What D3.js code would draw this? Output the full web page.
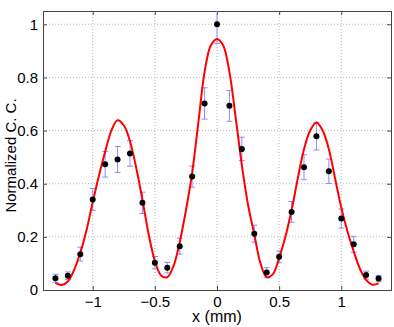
<!DOCTYPE html>
<html><head><meta charset="utf-8">
<script src="https://cdn.jsdelivr.net/npm/d3@7"></script>
<style>body{margin:0;background:#fff}svg{display:block}text{font-family:"Liberation Sans",Arial,sans-serif}</style>
</head><body><svg id="c" width="394" height="327"></svg>
<script>
// data points (x in mm, normalized C.C., error)
const xPts = [-1.3,-1.2,-1.1,-1.0,-0.9,-0.8,-0.7,-0.6,-0.5,-0.4,-0.3,-0.2,-0.1,0,0.1,0.2,0.3,0.4,0.5,0.6,0.7,0.8,0.9,1.0,1.1,1.2,1.3];
const yPts = [0.044,0.054,0.135,0.341,0.473,0.491,0.514,0.328,0.103,0.084,0.165,0.427,0.702,1.0,0.693,0.531,0.212,0.066,0.125,0.294,0.462,0.579,0.447,0.269,0.172,0.056,0.043];
const errPts = [0.015,0.014,0.026,0.041,0.048,0.049,0.048,0.040,0.023,0.020,0.030,0.040,0.059,0.072,0.058,0.044,0.032,0.018,0.022,0.039,0.047,0.052,0.046,0.036,0.030,0.015,0.012];
// fitted curve
const xFit = [-1.3,-1.25,-1.2,-1.15,-1.1,-1.05,-1.0,-0.95,-0.9,-0.85,-0.8,-0.75,-0.7,-0.65,-0.6,-0.55,-0.5,-0.45,-0.4,-0.35,-0.3,-0.25,-0.2,-0.15,-0.1,-0.05,0,0.05,0.1,0.15,0.2,0.25,0.3,0.35,0.4,0.45,0.5,0.55,0.6,0.65,0.7,0.75,0.8,0.85,0.9,0.95,1.0,1.05,1.1,1.15,1.2,1.25,1.3];
const yFit = [0.027,0.019,0.032,0.075,0.14,0.225,0.33,0.43,0.52,0.60,0.639,0.62,0.56,0.46,0.34,0.21,0.11,0.055,0.048,0.09,0.18,0.30,0.44,0.63,0.82,0.92,0.945,0.92,0.82,0.65,0.47,0.32,0.21,0.10,0.048,0.06,0.12,0.20,0.30,0.42,0.53,0.60,0.630,0.60,0.53,0.42,0.31,0.22,0.145,0.08,0.038,0.02,0.025];
const xTicks = [-1,-0.5,0,0.5,1];
const yTicks = [0,0.2,0.4,0.6,0.8,1];

const svg = d3.select("#c");
const L=43, R=391, T=11, B=290;
const x = d3.scaleLinear().domain([-1.4,1.4]).range([L,R]);
const y = d3.scaleLinear().domain([0,1.05]).range([B,T]);
const fmt = d => d===0?"0":(d===1?"1":(d===-1?"\u22121":String(d).replace("-","\u2212")));

// grid
const g = svg.append("g");
g.selectAll("line.gx").data(xTicks).join("line")
  .attr("x1",d=>x(d)).attr("x2",d=>x(d)).attr("y1",T).attr("y2",B)
  .attr("stroke","#b8b8b8").attr("stroke-width",1).attr("stroke-dasharray","1,2");
g.selectAll("line.gy").data(yTicks.filter(d=>d>0)).join("line")
  .attr("y1",d=>y(d)).attr("y2",d=>y(d)).attr("x1",L).attr("x2",R)
  .attr("stroke","#b8b8b8").attr("stroke-width",1).attr("stroke-dasharray","1,2");

// axes with inward ticks
const ax = d3.axisBottom(x).tickValues(xTicks).tickSize(-4).tickPadding(6).tickFormat(fmt);
const ay = d3.axisLeft(y).tickValues(yTicks).tickSize(-4).tickPadding(5).tickFormat(fmt);
const gx = svg.append("g").attr("transform",`translate(0,${B})`).call(ax);
const gy = svg.append("g").attr("transform",`translate(${L},0)`).call(ay);
const gx2 = svg.append("g").attr("transform",`translate(0,${T})`).call(d3.axisTop(x).tickValues(xTicks).tickSize(-4).tickFormat(""));
const gy2 = svg.append("g").attr("transform",`translate(${R},0)`).call(d3.axisRight(y).tickValues(yTicks).tickSize(-4).tickFormat(""));
[gx,gy,gx2,gy2].forEach(a=>{
  a.select(".domain").attr("stroke","#444").attr("stroke-width",1);
  a.selectAll(".tick line").attr("stroke","#444");
  a.selectAll("text").attr("font-size",15).attr("fill","#000").attr("font-family","Liberation Sans, Arial, sans-serif");
});

// error bars
const eb = svg.append("g").attr("stroke","#8c8cff").attr("stroke-width",1);
const cap = 3;
xPts.forEach((xv,i)=>{
  const y0 = Math.max(yPts[i]-errPts[i],0), y1 = Math.min(yPts[i]+errPts[i],1.05);
  eb.append("line").attr("x1",x(xv)).attr("x2",x(xv)).attr("y1",y(y0)).attr("y2",y(y1));
  eb.append("line").attr("x1",x(xv)-cap).attr("x2",x(xv)+cap).attr("y1",y(yPts[i]-errPts[i])).attr("y2",y(yPts[i]-errPts[i]));
  if (yPts[i]+errPts[i] <= 1.05)
    eb.append("line").attr("x1",x(xv)-cap).attr("x2",x(xv)+cap).attr("y1",y(yPts[i]+errPts[i])).attr("y2",y(yPts[i]+errPts[i]));
});

// fit curve
const line = d3.line().x(d=>x(d[0])).y(d=>y(d[1])).curve(d3.curveCatmullRom.alpha(0.5));
svg.append("path").datum(xFit.map((v,i)=>[v,yFit[i]]))
  .attr("d",line).attr("fill","none").attr("stroke","#ff0000").attr("stroke-width",2);

// points
svg.append("g").selectAll("circle").data(xPts.map((v,i)=>[v,yPts[i]])).join("circle")
  .attr("cx",d=>x(d[0])).attr("cy",d=>y(d[1])).attr("r",3).attr("fill","#000");

// labels
svg.append("text").attr("x",(L+R)/2).attr("y",322).attr("text-anchor","middle").attr("font-size",16).text("x (mm)");
svg.append("text").attr("transform",`translate(16,${(T+B)/2+5}) rotate(-90)`).attr("text-anchor","middle").attr("font-size",15).text("Normalized C. C.");
</script></body></html>
